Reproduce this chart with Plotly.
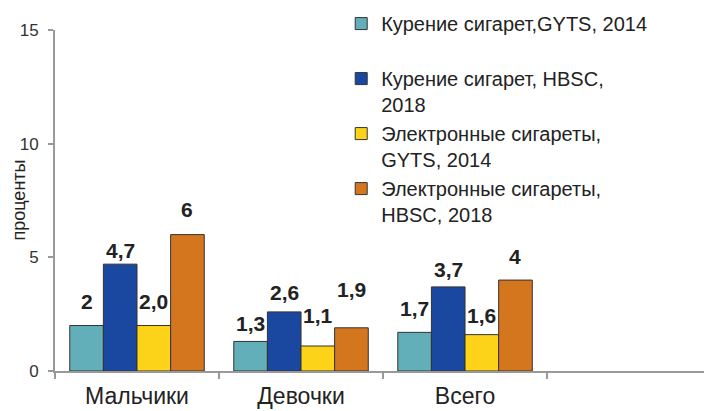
import plotly.graph_objects as go

categories = ["Мальчики", "Девочки", "Всего"]
series_names = [
    "Курение сигарет,GYTS, 2014<br> ",
    "Курение сигарет, HBSC,<br>2018",
    "Электронные сигареты,<br>GYTS, 2014",
    "Электронные сигареты,<br>HBSC, 2018",
]
cig_gyts_2014 = [2.0, 1.3, 1.7]
cig_hbsc_2018 = [4.7, 2.6, 3.7]
ecig_gyts_2014 = [2.0, 1.1, 1.6]
ecig_hbsc_2018 = [6.0, 1.9, 4.0]
labels_cig_gyts_2014 = ["2", "1,3", "1,7"]
labels_cig_hbsc_2018 = ["4,7", "2,6", "3,7"]
labels_ecig_gyts_2014 = ["2,0", "1,1", "1,6"]
labels_ecig_hbsc_2018 = ["6", "1,9", "4"]
y_ticks = [0, 5, 10, 15]
y_title = "проценты"

values = [cig_gyts_2014, cig_hbsc_2018, ecig_gyts_2014, ecig_hbsc_2018]
labels = [labels_cig_gyts_2014, labels_cig_hbsc_2018, labels_ecig_gyts_2014, labels_ecig_hbsc_2018]
colors = ["#62AFBA", "#1A47A0", "#FDD31A", "#D4761E"]
# pixel lift of each value label above its bar (style only)
label_lift = [[24, 18, 24], [14, 19, 17], [24, 30, 19], [25, 38, 24]]

FONT = "Liberation Sans, Arial, sans-serif"
bargap = 0.18

fig = go.Figure()
for i in range(4):
    fig.add_trace(go.Bar(
        x=categories, y=values[i], name=series_names[i],
        marker=dict(color=colors[i], line=dict(color="#333333", width=1)),
    ))

n = 4
bw = (1 - bargap) / n
for i in range(n):
    for j, cat in enumerate(categories):
        fig.add_annotation(
            x=j - (1 - bargap) / 2 + bw * (i + 0.5), y=values[i][j],
            xref="x", yref="y", text=labels[i][j], showarrow=False,
            yanchor="middle", yshift=label_lift[i][j],
            font=dict(family=FONT, size=21, color="#222222", weight="bold"),
        )

# y-axis title (placed as rotated text, as in the original)
fig.add_annotation(
    x=-0.057, y=0.5, xref="paper", yref="paper", text=y_title,
    textangle=-90, showarrow=False, xanchor="center", yanchor="middle",
    font=dict(family=FONT, size=18, color="#222222"),
)

fig.update_layout(
    width=704, height=411,
    margin=dict(l=55, r=0, t=30, b=40, autoexpand=False),
    paper_bgcolor="white", plot_bgcolor="white",
    barmode="group", bargap=bargap, bargroupgap=0,
    font=dict(family=FONT, color="#222222"),
    showlegend=True,
    legend=dict(
        x=0.441, xanchor="left", y=1.076, yanchor="top",
        font=dict(family=FONT, size=20, color="#222222"),
        valign="top", bgcolor="rgba(0,0,0,0)", borderwidth=0,
        traceorder="normal", maxheight=400,
    ),
)
fig.update_xaxes(
    type="category", range=[-0.5, 3.457], automargin=False,
    showline=True, linecolor="#999999", linewidth=2,
    ticks="outside", ticklen=6, tickwidth=2, tickcolor="#999999",
    tickson="boundaries", showgrid=False, zeroline=False,
    ticklabelstandoff=3,
    tickfont=dict(family=FONT, size=23, color="#222222"),
)
fig.update_yaxes(
    range=[0, 15], tickvals=y_ticks, automargin=False,
    showline=True, linecolor="#999999", linewidth=2,
    ticks="outside", ticklen=5, tickwidth=2, tickcolor="#999999",
    ticklabelstandoff=6,
    showgrid=False, zeroline=False,
    tickfont=dict(family=FONT, size=17, color="#333333"),
)
fig.write_html(
    "out.html",
    config={"displayModeBar": False},
    post_script="document.body.style.margin='0';document.body.style.overflow='hidden';",
)
